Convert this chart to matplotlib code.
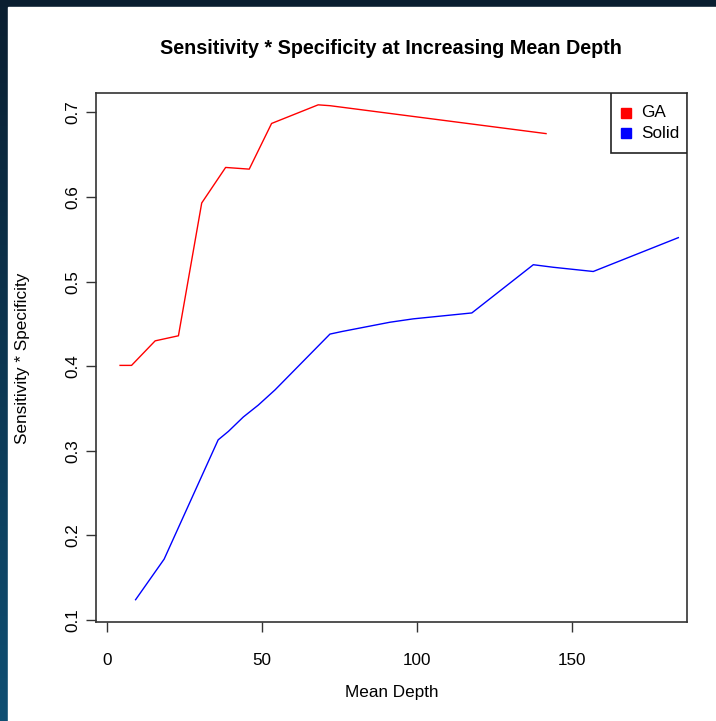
import numpy as np
import matplotlib
matplotlib.use("Agg")
import matplotlib.pyplot as plt

# Mean depth vs. sensitivity * specificity for each sequencing chemistry
ga_depth = [4.3, 8.0, 15.6, 23.1, 30.6, 38.3, 45.9, 53.1, 68.1, 71.9, 141.5]
ga_score = [0.401, 0.401, 0.430, 0.436, 0.593, 0.635, 0.633, 0.687, 0.709, 0.708, 0.675]

solid_depth = [9.3, 18.5, 35.9, 39.2, 44.0, 48.8, 54.2, 71.9, 75.7, 91.2, 98.7,
               117.6, 137.4, 143.8, 156.7, 184.1]
solid_score = [0.124, 0.172, 0.313, 0.323, 0.340, 0.354, 0.372, 0.438, 0.441,
               0.452, 0.456, 0.463, 0.520, 0.517, 0.512, 0.552]

series_names = ["GA", "Solid"]
series_colors = ["#ff0000", "#0000ff"]

x_ticks = [0, 50, 100, 150]
y_ticks = [0.1, 0.2, 0.3, 0.4, 0.5, 0.6, 0.7]

title = "Sensitivity * Specificity at Increasing Mean Depth"
x_label = "Mean Depth"
y_label = "Sensitivity * Specificity"

plt.rcParams["font.family"] = ["Liberation Sans", "DejaVu Sans"]

W, H, DPI = 716, 721, 100
fig = plt.figure(figsize=(W / DPI, H / DPI), dpi=DPI)

# dark blue backdrop with a soft gradient
bg = fig.add_axes([0, 0, 1, 1], zorder=-10)
yy, xx = np.mgrid[0:1:200j, 0:1:200j]
top = np.array([0.04, 0.12, 0.19])
bottom = np.array([0.06, 0.31, 0.45])
t = (yy * (1 - 0.6 * xx))[..., None]
img = top * (1 - t) + bottom * t
bg.imshow(img, extent=[0, 1, 0, 1], aspect="auto", origin="upper")
bg.add_patch(plt.Rectangle((8 / W, 0), 1 - 8 / W, 1 - 7 / H, color="white"))
bg.set_xlim(0, 1)
bg.set_ylim(0, 1)
bg.axis("off")

left, right = 96 / W, 686.7 / W
bottom_y, top_y = 1 - 621.7 / H, 1 - 93 / H
ax = fig.add_axes([left, bottom_y, right - left, top_y - bottom_y])
ax.set_facecolor("white")

ax.plot(ga_depth, ga_score, color=series_colors[0], lw=1.0)
ax.plot(solid_depth, solid_score, color=series_colors[1], lw=1.0)

ax.set_xlim(-3.45, 186.8)
ax.set_ylim(0.098, 0.723)

ax.set_xticks(x_ticks)
ax.set_xticklabels([str(v) for v in x_ticks])
ax.set_yticks(y_ticks)
ax.set_yticklabels([f"{v:.1f}" for v in y_ticks], rotation=90, va="center")

for s in ax.spines.values():
    s.set_color("#333333")
    s.set_linewidth(1.2)
ax.tick_params(axis="both", direction="out", length=7.5, width=1.0,
               color="#333333", labelsize=12.3, labelcolor="black")
ax.tick_params(axis="x", pad=15)
ax.tick_params(axis="y", pad=4)

cx = (left + right) / 2
fig.text(cx, 1 - 49 / H, title, ha="center", va="center",
         fontsize=14.2, fontweight="bold")
fig.text(cx, 1 - 692 / H, x_label, ha="center", va="center", fontsize=12.3)
fig.text(23 / W, 1 - 358 / H, y_label, ha="center", va="center",
         rotation=90, fontsize=12.3)

# legend box in the top-right corner, laid out in pixel terms
ax_w = (right - left) * W
ax_h = (top_y - bottom_y) * H


def to_ax(px, py):
    return (px - 96) / ax_w, (621.7 - py) / ax_h


bx0, by0 = to_ax(611, 153.3)
bx1, by1 = to_ax(686.7, 93)
ax.add_patch(plt.Rectangle((bx0, by0), bx1 - bx0, by1 - by0, transform=ax.transAxes,
                           facecolor="white", edgecolor="#222222", lw=1.2, zorder=5))
for name, color, py in zip(series_names, series_colors, [112.7, 133.3]):
    mx, my = to_ax(626, py)
    ax.plot([mx], [my], marker="s", markersize=6.5, color=color, linestyle="none",
            transform=ax.transAxes, zorder=6, clip_on=False)
    tx, ty = to_ax(641.5, py)
    ax.text(tx, ty, name, transform=ax.transAxes, ha="left", va="center",
            fontsize=12.3, zorder=6)

fig.savefig("out.png", dpi=DPI)
